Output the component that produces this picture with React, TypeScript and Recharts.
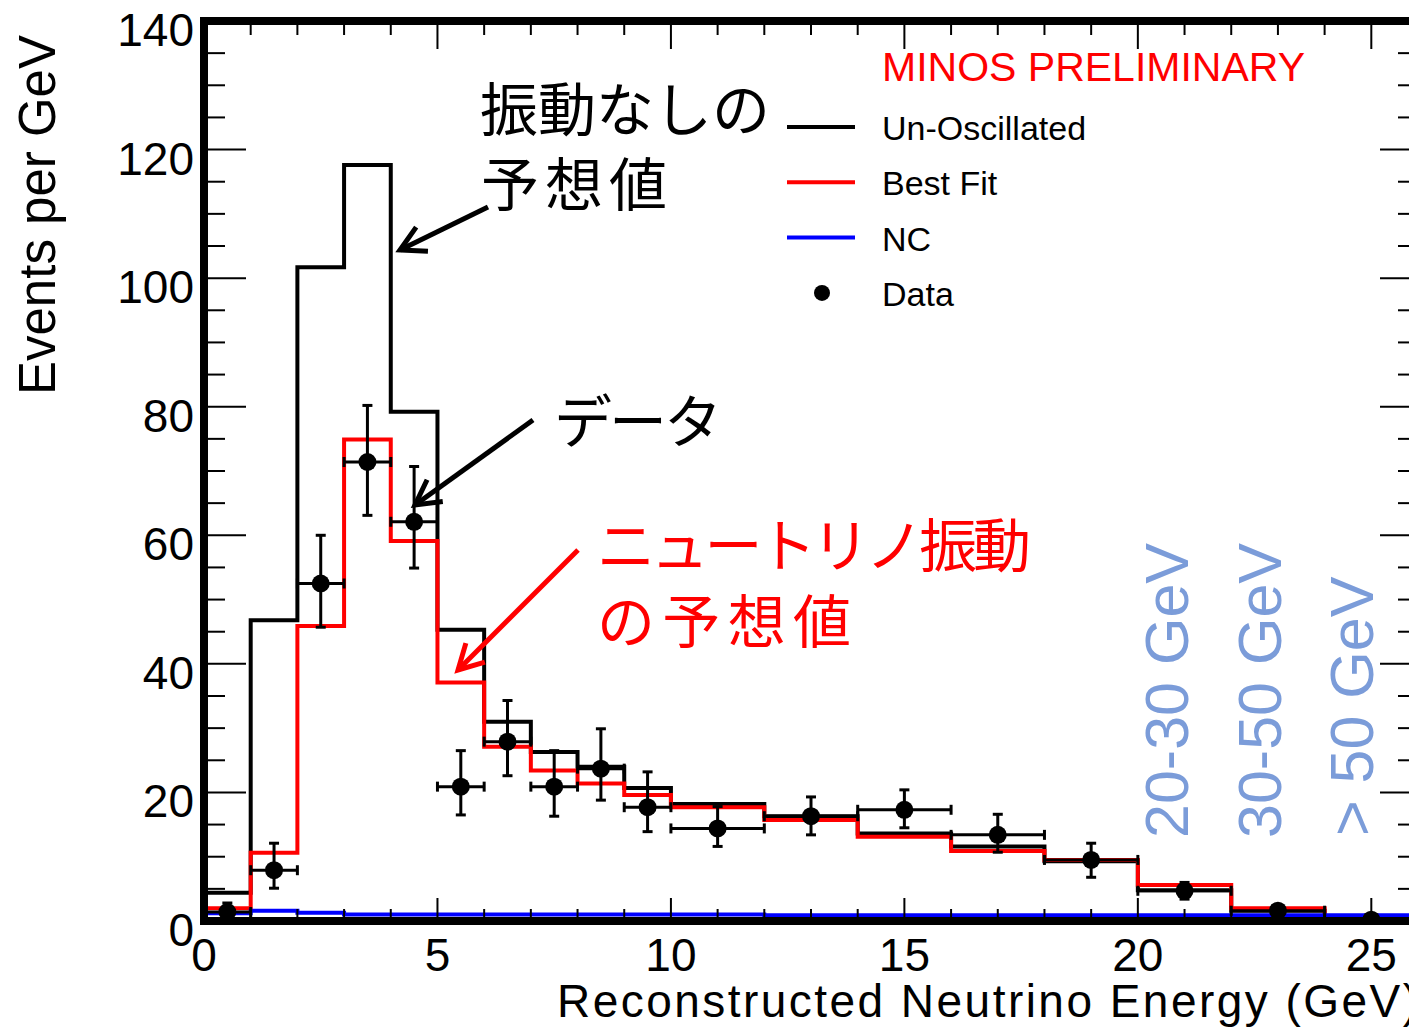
import React from 'react';
import { ComposedChart, Line, Scatter, ErrorBar, XAxis, YAxis, Legend } from 'recharts';

const FONT = '"Liberation Sans", Arial, Helvetica, sans-serif';
const JP = '"Noto Sans CJK JP", "Noto Sans CJK SC", sans-serif';

// histogram bin edges (GeV)
const binEdges = [0, 1, 2, 3, 4, 5, 6, 7, 8, 9, 10, 12, 14, 16, 18, 20, 22, 24, 26];
// events per GeV in each bin
const unOscillated = [4.4, 46.8, 101.7, 117.6, 79.2, 45.3, 31.0, 26.3, 24.0, 20.7, 18.2, 16.3, 13.6, 11.6, 9.3, 4.8, 1.6, 0.5];
const bestFit = [2.0, 10.6, 45.9, 74.9, 59.1, 37.1, 27.1, 23.4, 21.4, 19.6, 17.7, 15.7, 13.1, 10.9, 9.5, 5.6, 2.0, 0.5];
const ncBackground = [1.2, 1.6, 1.3, 1.0, 1.0, 1.0, 1.0, 1.0, 1.0, 1.0, 1.0, 0.9, 0.9, 0.9, 0.9, 0.9, 0.9, 0.9];

// data points
const dataEnergy = [0.5, 1.5, 2.5, 3.5, 4.5, 5.5, 6.5, 7.5, 8.5, 9.5, 11, 13, 15, 17, 19, 21, 23, 25];
const dataEvents = [1.4, 7.9, 52.5, 71.4, 62.1, 20.9, 27.9, 20.9, 23.7, 17.7, 14.4, 16.3, 17.3, 13.4, 9.5, 4.7, 1.6, 0.2];
const errLow = [1.2, 2.8, 6.8, 8.3, 7.2, 4.4, 5.3, 4.6, 4.9, 3.8, 2.8, 2.9, 2.8, 2.7, 2.7, 1.3, 0.8, 0.2];
const errHigh = [1.4, 4.2, 7.5, 8.8, 8.6, 5.6, 6.4, 5.6, 6.2, 5.5, 3.4, 3.0, 3.1, 3.2, 2.6, 1.3, 0.8, 0.3];
const binHalfWidth = [0.5, 0.5, 0.5, 0.5, 0.5, 0.5, 0.5, 0.5, 0.5, 0.5, 1, 1, 1, 1, 1, 1, 1, 1];

const legendOrder = ['Un-Oscillated', 'Best Fit', 'NC', 'Data'];

const xTicks = Array.from({ length: 27 }, (_, i) => i);
const yTicks = Array.from({ length: 29 }, (_, i) => i * 5);

const histo = (vals: number[]) =>
  binEdges.map((x, i) => ({ x, y: vals[Math.min(i, vals.length - 1)] }));

const dataPoints = dataEnergy.map((x, i) => ({
  x,
  y: dataEvents[i],
  ex: binHalfWidth[i],
  ey: [errLow[i], errHigh[i]],
}));

const frame = { stroke: '#000', strokeWidth: 8, strokeLinecap: 'square' as const };

const BottomTick = (p: any) => {
  const v = p.payload.value;
  const major = v % 5 === 0;
  return (
    <g>
      <line x1={p.x} x2={p.x} y1={p.y - 3} y2={p.y - (major ? 23 : 12)} stroke="#000" strokeWidth={2} />
      {major && (
        <text x={p.x} y={p.y + 50} textAnchor="middle" fontSize={46} fontFamily={FONT} fill="#000">
          {v}
        </text>
      )}
    </g>
  );
};

const TopTick = (p: any) => {
  const major = p.payload.value % 5 === 0;
  return <line x1={p.x} x2={p.x} y1={p.y + 3} y2={p.y + (major ? 28 : 14)} stroke="#000" strokeWidth={2} />;
};

const LeftTick = (p: any) => {
  const v = p.payload.value;
  const major = v % 20 === 0;
  return (
    <g>
      <line x1={p.x + 3} x2={p.x + (major ? 42 : 21)} y1={p.y} y2={p.y} stroke="#000" strokeWidth={2} />
      {major && (
        <text x={p.x - 10} y={p.y + 25} textAnchor="end" fontSize={46} fontFamily={FONT} fill="#000">
          {v}
        </text>
      )}
    </g>
  );
};

const RightTick = (p: any) => {
  const major = p.payload.value % 20 === 0;
  return <line x1={p.x - 3} x2={p.x - (major ? 38 : 20)} y1={p.y} y2={p.y} stroke="#000" strokeWidth={2} />;
};

const LegendBox = (props: any) => {
  const items = (props.payload || [])
    .filter((it: any) => legendOrder.includes(it.value))
    .sort((a: any, b: any) => legendOrder.indexOf(a.value) - legendOrder.indexOf(b.value));
  return (
    <svg width={560} height={300}>
      <text x={102} y={51} fill="#ff0000" fontSize={41} fontFamily={FONT}>
        MINOS PRELIMINARY
      </text>
      {items.map((it: any, i: number) => {
        const y = 97 + i * 55.3;
        return (
          <g key={i}>
            {it.type === 'circle' ? (
              <circle cx={42} cy={y} r={8} fill="#000" />
            ) : (
              <line x1={7} x2={75} y1={y} y2={y} stroke={it.color} strokeWidth={4} />
            )}
            <text x={102} y={y + 13} fontSize={34} fontFamily={FONT} fill="#000">
              {it.value}
            </text>
          </g>
        );
      })}
    </svg>
  );
};

const arrow = (x1: number, y1: number, x2: number, y2: number, color: string) => {
  const a = Math.atan2(y1 - y2, x1 - x2);
  const L = 28;
  const s = 0.5;
  const p1 = [x2 + L * Math.cos(a + s), y2 + L * Math.sin(a + s)];
  const p2 = [x2 + L * Math.cos(a - s), y2 + L * Math.sin(a - s)];
  return (
    <g stroke={color} strokeWidth={5} fill="none">
      <line x1={x1} y1={y1} x2={x2} y2={y2} />
      <polyline points={`${p1[0]},${p1[1]} ${x2},${y2} ${p2[0]},${p2[1]}`} strokeLinejoin="miter" />
    </g>
  );
};

const XTitle = (p: any) => {
  const vb = p.viewBox;
  return (
    <text x={vb.x + vb.width} y={vb.y + 96} textAnchor="end" fontSize={46} fontFamily={FONT} fill="#000" textLength={861}>
      Reconstructed Neutrino Energy (GeV)
    </text>
  );
};

const YTitle = () => (
  <text x={55} y={35} transform="rotate(-90 55 35)" textAnchor="end" fontSize={51} fontFamily={FONT} fill="#000">
    Events per GeV
  </text>
);

export default function App() {
  return (
    <div style={{ position: 'fixed', left: 0, top: 0, width: 1409, height: 1030, overflow: 'hidden', background: '#fff' }}>
      <ComposedChart width={1440} height={1030} margin={{ top: 20, right: 21, bottom: 0, left: 0 }}>
        <XAxis
          dataKey="x"
          type="number"
          domain={[0, 26]}
          allowDataOverflow
          ticks={xTicks}
          interval={0}
          height={109}
          tickSize={0}
          tickMargin={0}
          tickLine={false}
          axisLine={frame}
          tick={<BottomTick />}
          label={<XTitle />}
        />
        <XAxis
          xAxisId="top"
          orientation="top"
          dataKey="x"
          type="number"
          domain={[0, 26]}
          allowDataOverflow
          ticks={xTicks}
          interval={0}
          height={1}
          tickSize={0}
          tickMargin={0}
          tickLine={false}
          axisLine={frame}
          tick={<TopTick />}
        />
        <YAxis
          type="number"
          domain={[0, 140]}
          allowDataOverflow
          ticks={yTicks}
          interval={0}
          width={204}
          tickSize={0}
          tickMargin={0}
          tickLine={false}
          axisLine={frame}
          tick={<LeftTick />}
          label={<YTitle />}
        />
        <YAxis
          yAxisId="right"
          orientation="right"
          type="number"
          domain={[0, 140]}
          allowDataOverflow
          ticks={yTicks}
          interval={0}
          width={1}
          tickSize={0}
          tickMargin={0}
          tickLine={false}
          axisLine={frame}
          tick={<RightTick />}
        />
        {/* invisible copy bound to the top / right frame axes */}
        <Line
          xAxisId="top"
          yAxisId="right"
          name="frame"
          legendType="none"
          data={histo(ncBackground)}
          dataKey="y"
          stroke="none"
          dot={false}
          activeDot={false}
          isAnimationActive={false}
        />
        <Line name="Un-Oscillated" data={histo(unOscillated)} dataKey="y" type="stepAfter" stroke="#000000" strokeWidth={4} dot={false} activeDot={false} isAnimationActive={false} />
        <Line name="Best Fit" data={histo(bestFit)} dataKey="y" type="stepAfter" stroke="#ff0000" strokeWidth={4} dot={false} activeDot={false} isAnimationActive={false} />
        <Line name="NC" data={histo(ncBackground)} dataKey="y" type="stepAfter" stroke="#0000ff" strokeWidth={4} dot={false} activeDot={false} isAnimationActive={false} />
        <Scatter
          name="Data"
          data={dataPoints}
          dataKey="y"
          fill="#000"
          legendType="circle"
          isAnimationActive={false}
          shape={(p: any) => <circle cx={p.cx} cy={p.cy} r={9} fill="#000" />}
        >
          <ErrorBar dataKey="ey" direction="y" stroke="#000" strokeWidth={3} width={5} isAnimationActive={false} />
          <ErrorBar dataKey="ex" direction="x" stroke="#000" strokeWidth={3} width={5} isAnimationActive={false} />
        </Scatter>
        <Legend
          layout="horizontal"
          verticalAlign="middle"
          align="center"
          content={<LegendBox />}
          wrapperStyle={{ left: 780, top: 30, width: 560, height: 300 }}
        />
      </ComposedChart>
      <svg width={1409} height={1030} style={{ position: 'absolute', left: 0, top: 0, pointerEvents: 'none' }}>
        <g fontFamily={JP} fontSize={58} fill="#000">
          <text x={480} y={131} textLength={290}>振動なしの</text>
          <text x={481} y={206} textLength={186}>予想値</text>
          <text x={554} y={443} textLength={168}>データ</text>
        </g>
        <g fontFamily={JP} fontSize={58} fill="#ff0000">
          <text x={597} y={567} textLength={434}>ニュートリノ振動</text>
          <text x={597} y={643} textLength={254}>の予想値</text>
        </g>
        {arrow(488, 207, 400, 250, '#000')}
        {arrow(533, 420, 415, 505, '#000')}
        {arrow(578, 550, 458, 670, '#ff0000')}
        <g fontFamily={FONT} fontSize={61} fill="#7b9cd9">
          <text x={1188} y={838} transform="rotate(-90 1188 838)">20-30 GeV</text>
          <text x={1281} y={838} transform="rotate(-90 1281 838)">30-50 GeV</text>
          <text x={1373} y={836} transform="rotate(-90 1373 836)">&gt; 50 GeV</text>
        </g>
      </svg>
    </div>
  );
}
